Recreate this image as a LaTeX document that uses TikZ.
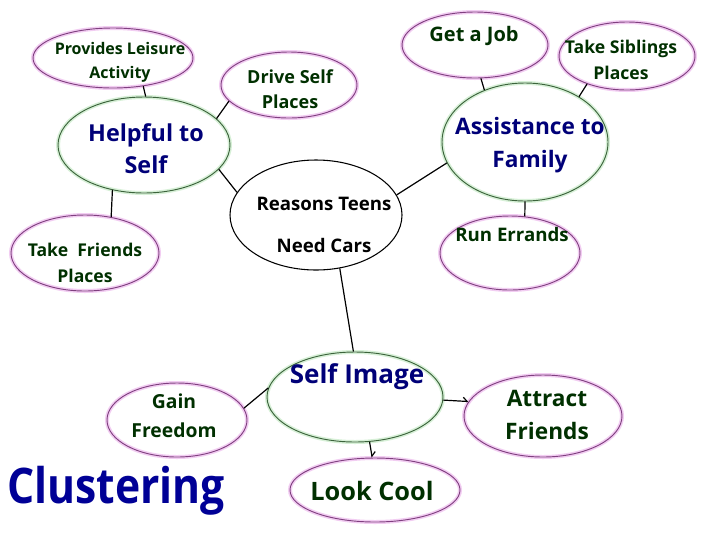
\documentclass[tikz,border=0pt]{standalone}
\usepackage{fontspec}
\setmainfont{Open Sans}
\usetikzlibrary{shapes.geometric,arrows.meta}
\definecolor{leafink}{RGB}{0,48,0}
\definecolor{hubink}{RGB}{0,0,120}
\definecolor{leafline}{RGB}{128,64,128}
\definecolor{leafglow}{RGB}{242,205,242}
\definecolor{hubline}{RGB}{60,100,60}
\definecolor{hubglow}{RGB}{215,240,215}
\definecolor{titleink}{RGB}{0,0,150}
\begin{document}
\begin{tikzpicture}
[x=0.75pt,y=-0.75pt,%
 bubble/.style 2 args={ellipse,inner sep=0pt,minimum width=#1*1.5pt,minimum height=#2*1.5pt},%
 leaf/.style={draw=leafline,line width=0.7pt,preaction={draw=leafglow,line width=3pt}},%
 hub/.style={draw=hubline,line width=0.7pt,preaction={draw=hubglow,line width=3pt}},%
 core/.style={draw=black,line width=0.8pt},%
 fsz/.style 2 args={font=\bfseries\fontsize{#1}{#2}\selectfont},%
 leaftext/.style={text=leafink,align=center,inner sep=0pt},%
 hubtext/.style={text=hubink,align=center,inner sep=0pt},%
 linkstyle/.style={line width=0.9pt},%
 barbstyle/.style={linkstyle,-{Straight Barb[left,length=3pt]}}]
\fill[white] (0,0) rectangle (720,540);
%% ellipses
\node[bubble={80}{30},leaf] (leisure) at (113,58) {};
\node[bubble={68}{33},leaf] (drive) at (289,85) {};
\node[bubble={73}{33},leaf] (job) at (475,45) {};
\node[bubble={68}{34},leaf] (siblings) at (627,56) {};
\node[bubble={86}{48},hub] (helpful) at (144,145) {};
\node[bubble={83}{59},hub] (assist) at (525,142) {};
\node[bubble={86}{55},core] (reasons) at (316,215) {};
\node[bubble={74}{38},leaf] (friends) at (85,253) {};
\node[bubble={70}{37},leaf] (errands) at (510,253) {};
\node[bubble={88}{45},hub] (self) at (355,397) {};
\node[bubble={70}{37},leaf] (freedom) at (177,420) {};
\node[bubble={85}{32},leaf] (cool) at (375,490) {};
\node[bubble={79}{41},leaf] (attract) at (543,416) {};
%% texts
\node[leaftext,fsz={12}{18}] (leisuretxt) at (120,62) {Provides Leisure\\Activity};
\node[leaftext,fsz={13.5}{19}] (drivetxt) at (290,89) {Drive Self\\Places};
\node[leaftext,fsz={15}{19}] (jobtxt) at (474,36) {Get a Job};
\node[leaftext,fsz={13.2}{19}] (siblingstxt) at (621,60) {Take Siblings\\Places};
\node[hubtext,fsz={17.5}{24}] (helpfultxt) at (146,149) {Helpful to\\Self};
\node[hubtext,fsz={17}{25}] (assisttxt) at (530,145) {Assistance to\\Family};
\node[align=center,inner sep=0pt,fsz={14}{31.5}] (reasonstxt) at (324,225) {Reasons Teens\\Need Cars};
\node[leaftext,fsz={13.2}{19.5}] (friendstxt) at (85,263) {Take\ \ Friends\\Places};
\node[leaftext,fsz={14}{19}] (errandstxt) at (512,234) {Run Errands};
\node[hubtext,fsz={19.5}{24}] (selftxt) at (357,377) {Self Image};
\node[leaftext,fsz={14.5}{22}] (freedomtxt) at (174,416) {Gain\\Freedom};
\node[leaftext,fsz={19}{24}] (cooltxt) at (372,491) {Look Cool};
\node[leaftext,fsz={17}{25}] (attracttxt) at (547,415) {Attract\\Friends};
\node[text=titleink,inner sep=0pt,fsz={32}{36}] (title) at (116,491) {\scalebox{1}[1.15]{Clustering}};
%% connectors
\draw[linkstyle] (leisure.-43) -- (helpful.88);
\draw[linkstyle] (drive.-165) -- (helpful.20);
\draw[linkstyle] (helpful.-18) -- (reasons.164);
\draw[linkstyle] (friends.54) -- (helpful.-125);
\draw[linkstyle] (job.-80) -- (assist.128);
\draw[linkstyle] (siblings.-145) -- (assist.40);
\draw[linkstyle] (assist.-165) -- (reasons.14);
\draw[linkstyle] (assist.south) -- (errands.68);
\draw[linkstyle] (reasons.-66) -- (self.92);
\draw[linkstyle] (freedom.10) -- (self.174);
\draw[barbstyle] (self.-2) -- (attract.169);
\draw[barbstyle] (self.-72) -- (cool.95);
\end{tikzpicture}
\end{document}
